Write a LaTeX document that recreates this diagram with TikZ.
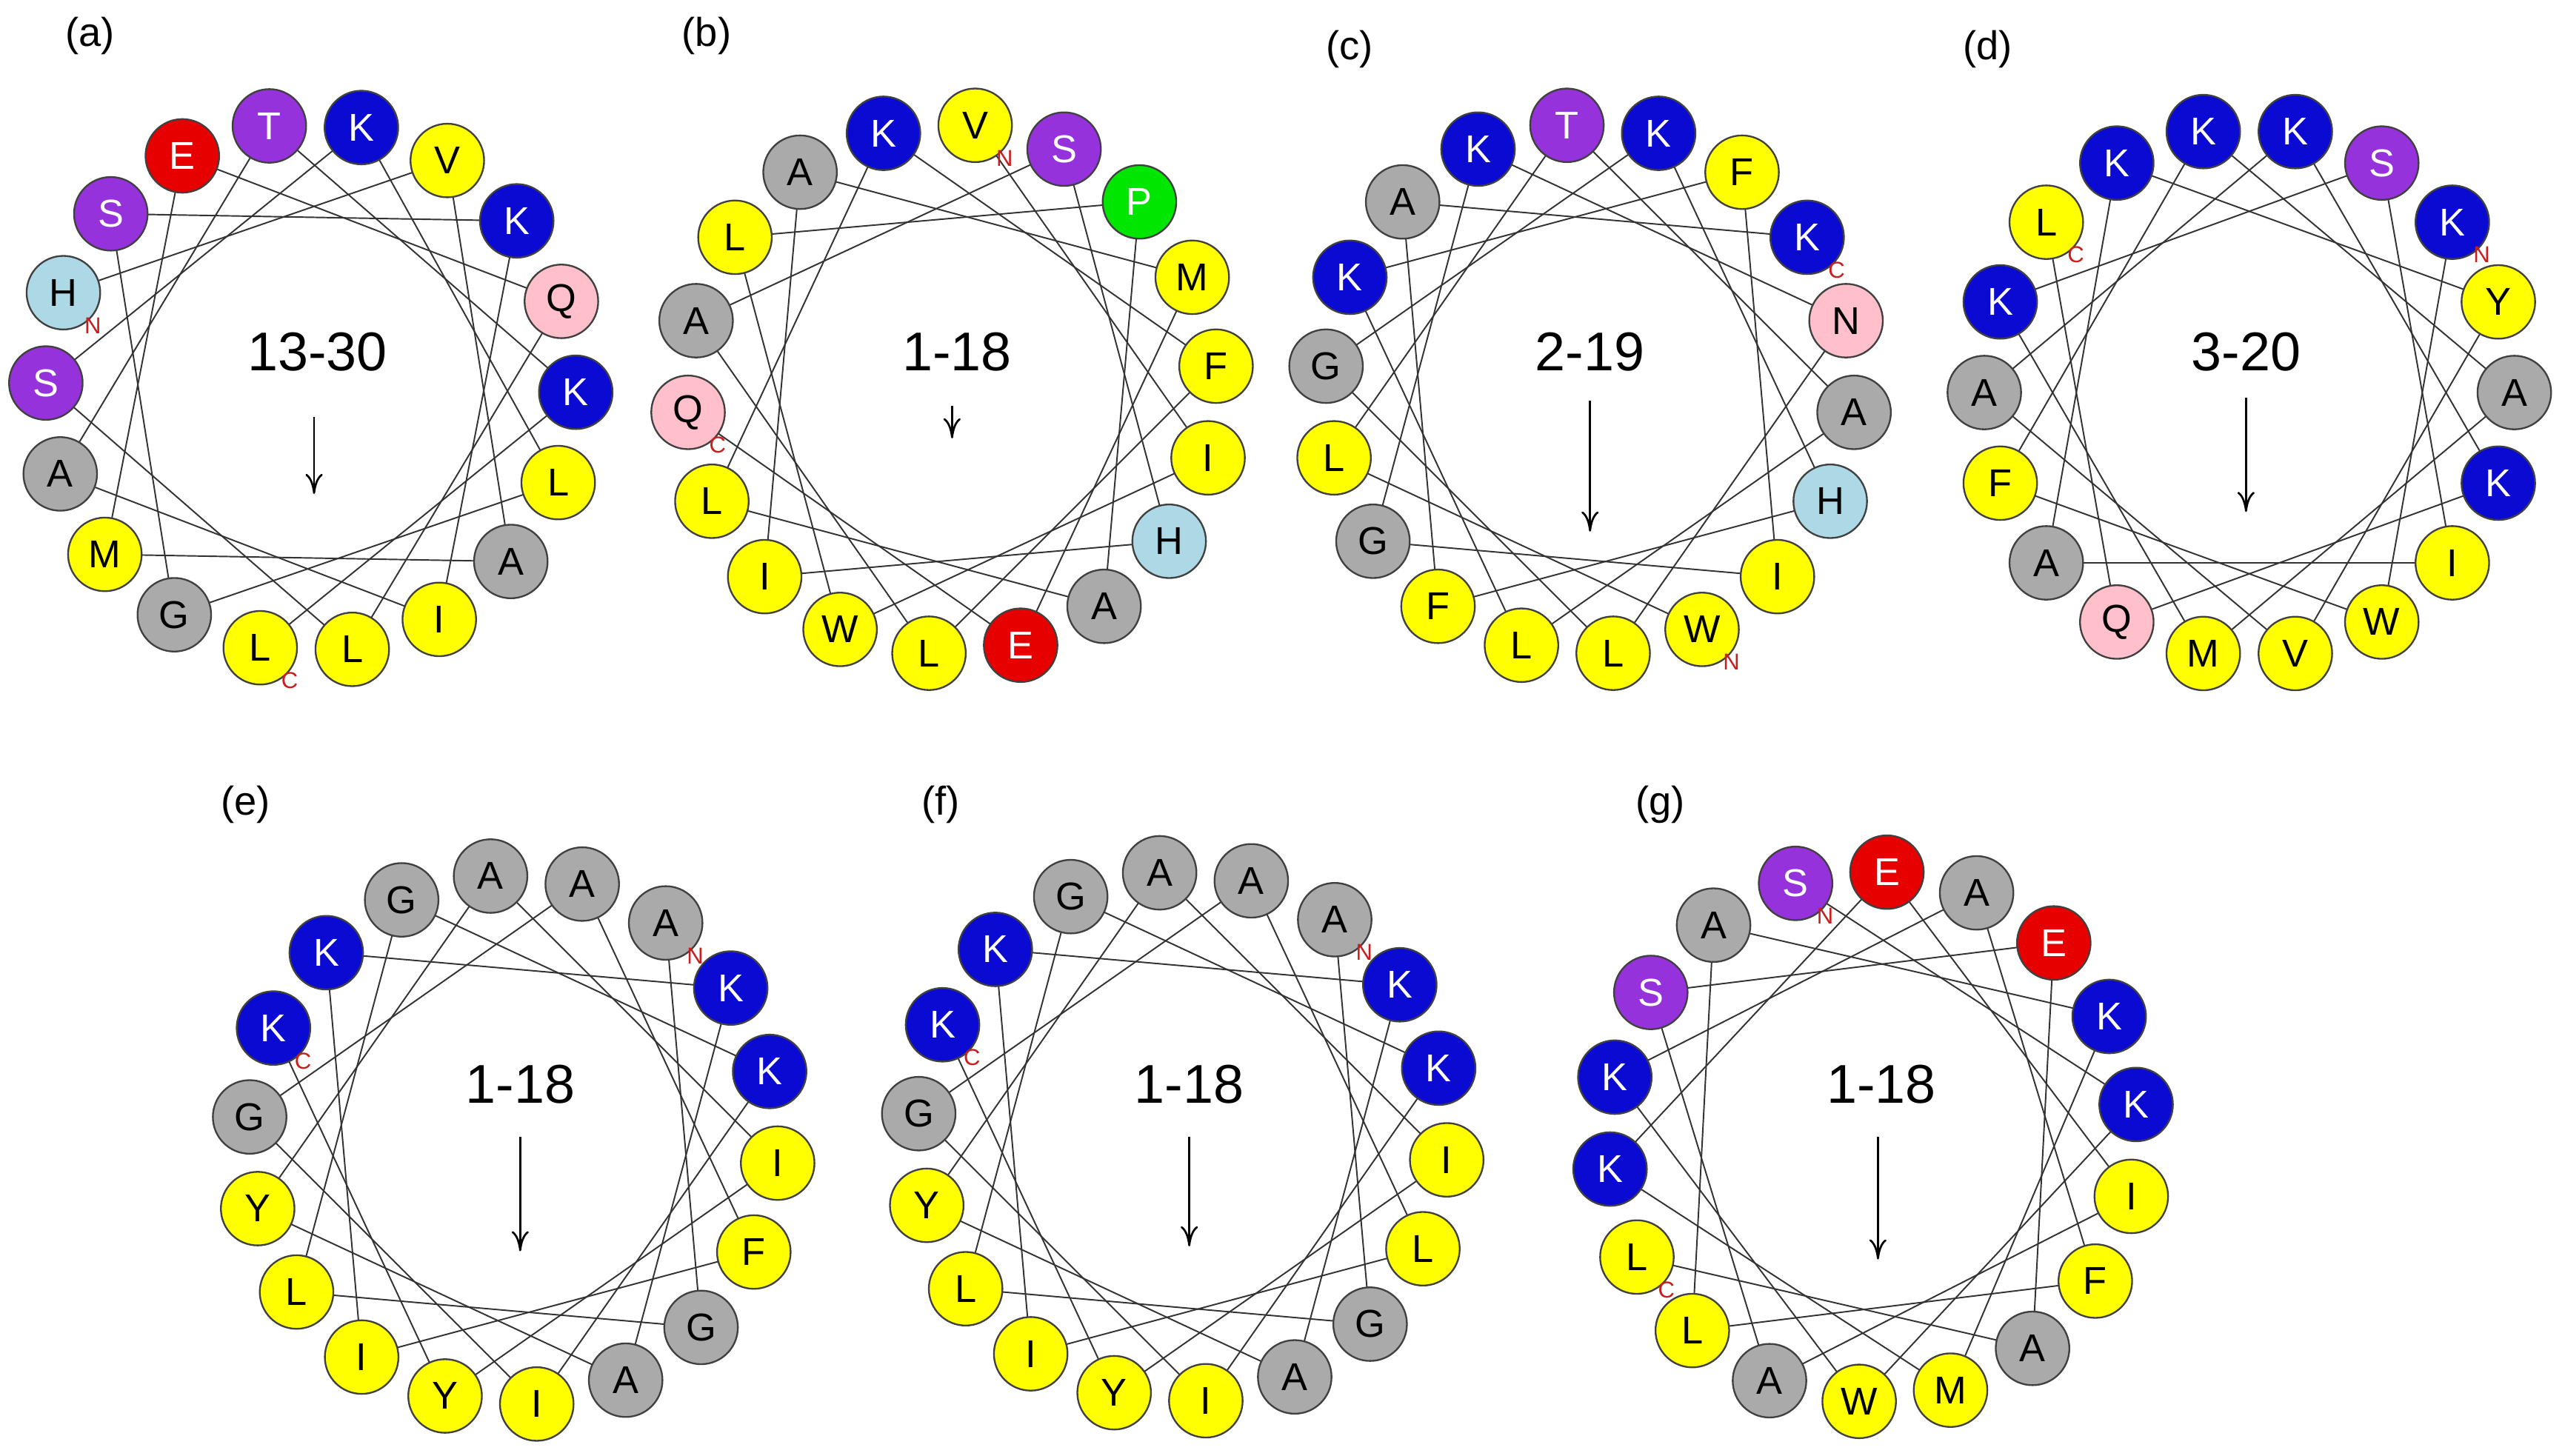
\documentclass[tikz,border=0pt]{standalone}
\usepackage{fontspec}
\setmainfont{Liberation Sans}
\usetikzlibrary{calc,arrows.meta}
\definecolor{cBlue}{RGB}{10,10,210}
\definecolor{cYel}{RGB}{255,255,0}
\definecolor{cGry}{RGB}{170,170,170}
\definecolor{cPur}{RGB}{150,50,220}
\definecolor{cRed}{RGB}{230,0,0}
\definecolor{cLbl}{RGB}{173,216,230}
\definecolor{cPnk}{RGB}{255,192,203}
\definecolor{cGrn}{RGB}{0,230,0}
\definecolor{cTerm}{RGB}{200,30,30}
\colorlet{fillK}{cBlue}\colorlet{txtK}{white}
\colorlet{fillE}{cRed}\colorlet{txtE}{white}
\colorlet{fillS}{cPur}\colorlet{txtS}{white}
\colorlet{fillT}{cPur}\colorlet{txtT}{white}
\colorlet{fillP}{cGrn}\colorlet{txtP}{white}
\colorlet{fillH}{cLbl}\colorlet{txtH}{black}
\colorlet{fillQ}{cPnk}\colorlet{txtQ}{black}
\colorlet{fillN}{cPnk}\colorlet{txtN}{black}
\colorlet{fillG}{cGry}\colorlet{txtG}{black}
\colorlet{fillA}{cGry}\colorlet{txtA}{black}
\colorlet{fillV}{cYel}\colorlet{txtV}{black}
\colorlet{fillL}{cYel}\colorlet{txtL}{black}
\colorlet{fillI}{cYel}\colorlet{txtI}{black}
\colorlet{fillM}{cYel}\colorlet{txtM}{black}
\colorlet{fillF}{cYel}\colorlet{txtF}{black}
\colorlet{fillW}{cYel}\colorlet{txtW}{black}
\colorlet{fillY}{cYel}\colorlet{txtY}{black}
\tikzset{
 res/.style={circle,draw=black!75,line width=0.6pt,minimum size=0.9cm,inner sep=0pt,
   fill=fill#1,text=txt#1,font=\fontsize{13.5}{13.5}\selectfont},
 helix/.style={black!80,line width=0.5pt},
 term/.style={text=cTerm,font=\fontsize{8}{8}\selectfont,inner sep=0pt},
 rng/.style={font=\fontsize{19}{19}\selectfont,inner sep=0pt},
 panel/.style={font=\fontsize{14}{14}\selectfont,inner sep=0pt},
 moment/.style={-{To[length=7pt,width=6pt]},line width=0.7pt}
}
\newcommand{\hwheel}[6]{%
 \coordinate (#1c) at (#2,#3);
 \foreach \L [count=\i from 0] in {#6} {
   \pgfmathsetmacro\ang{#4-20*\i}
   \coordinate (#1p\i) at ($(#1c)+(\ang:162)$);
 }
 \foreach \k in {0,...,16} {
   \pgfmathtruncatemacro\p{mod(#5+5*\k,18)}
   \pgfmathtruncatemacro\q{mod(#5+5*\k+5,18)}
   \draw[helix] (#1p\p) -- (#1p\q);
 }
 \foreach \L [count=\i from 0] in {#6} {
   \node[res=\L] (#1n\i) at (#1p\i) {\L};
 }
 \pgfmathtruncatemacro\cp{mod(#5+13,18)}
 \node[term] (#1N) at ($(#1p#5)+(18,-20)$) {N};
 \node[term] (#1C) at ($(#1p\cp)+(18,-20)$) {C};
}
\begin{document}
\begin{tikzpicture}[x=0.02cm,y=0.02cm]
\useasboundingbox (0,0) rectangle (1568,890);
\hwheel{a}{190}{653}{99}{15}{T,K,V,K,Q,K,L,A,I,L,L,G,M,A,S,H,S,E}
\hwheel{b}{582}{652}{105}{1}{K,V,S,P,M,F,I,H,A,E,L,W,I,L,Q,A,L,A}
\hwheel{c}{972}{652}{95}{8}{T,K,F,K,N,A,H,I,W,L,L,F,G,L,G,K,A,K}
\hwheel{d}{1375}{650}{100}{3}{K,K,S,K,Y,A,K,I,W,V,M,Q,A,F,A,K,L,K}
\hwheel{e}{314}{193}{95}{2}{A,A,A,K,K,I,F,G,A,I,Y,I,L,Y,G,K,K,G}
\hwheel{f}{723}{195}{95}{2}{A,A,A,K,K,I,L,G,A,I,Y,I,L,Y,G,K,K,G}
\hwheel{g}{1145}{195}{107}{0}{S,E,A,E,K,K,I,F,A,M,W,A,L,L,K,K,S,A}
% hydrophobic moments
\coordinate (as) at (192,635); \coordinate (ae) at (192,588);
\coordinate (bs) at (582,642); \coordinate (be) at (582,622);
\coordinate (cs) at (972,645); \coordinate (ce) at (972,565);
\coordinate (ds) at (1373,647); \coordinate (de) at (1373,577);
\coordinate (es) at (318,195); \coordinate (ee) at (318,125);
\coordinate (fs) at (727,195); \coordinate (fe) at (727,128);
\coordinate (gs) at (1148,195); \coordinate (ge) at (1148,120);
\foreach \w in {a,b,c,d,e,f,g} {\draw[moment] (\w s) -- (\w e);}
\node[rng] (ar) at (194,675) {13-30};
\node[rng] (br) at (585,675) {1-18};
\node[rng] (cr) at (972,675) {2-19};
\node[rng] (dr) at (1373,675) {3-20};
\node[rng] (er) at (318,227) {1-18};
\node[rng] (fr) at (727,227) {1-18};
\node[rng] (gr) at (1150,227) {1-18};
\node[panel] (la) at (55,868) {(a)};
\node[panel] (lb) at (432,868) {(b)};
\node[panel] (lc) at (825,860) {(c)};
\node[panel] (ld) at (1215,860) {(d)};
\node[panel] (le) at (150,398) {(e)};
\node[panel] (lf) at (575,398) {(f)};
\node[panel] (lg) at (1015,398) {(g)};
\end{tikzpicture}
\end{document}
